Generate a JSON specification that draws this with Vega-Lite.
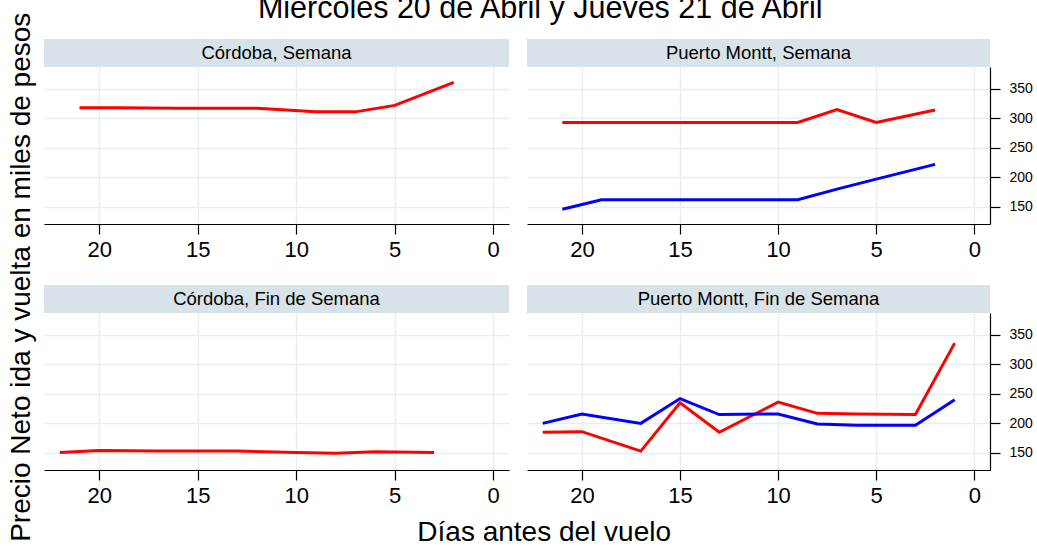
{
  "$schema": "https://vega.github.io/schema/vega-lite/v6.json",
  "background": "white",
  "padding": {"left": 7, "top": -7, "right": 0, "bottom": 0},
  "config": {
    "font": "Liberation Sans",
    "view": {"stroke": null},
    "axis": {
      "labelFont": "Liberation Sans",
      "labelColor": "#000",
      "tickColor": "#000",
      "domainColor": "#000",
      "gridColor": "#e6eef1",
      "gridWidth": 1.5,
      "tickSize": 10,
      "tickWidth": 1.2,
      "domainWidth": 1.2
    },
    "axisX": {"labelFontSize": 22, "labelPadding": 5},
    "axisY": {"labelFontSize": 14, "labelPadding": 9}
  },
  "datasets": {
    "precios": [
      {"panel": "Córdoba, Semana", "serie": "Serie 1", "dias": 21, "precio": 318},
      {"panel": "Córdoba, Semana", "serie": "Serie 1", "dias": 19, "precio": 318},
      {"panel": "Córdoba, Semana", "serie": "Serie 1", "dias": 16, "precio": 317},
      {"panel": "Córdoba, Semana", "serie": "Serie 1", "dias": 14, "precio": 317},
      {"panel": "Córdoba, Semana", "serie": "Serie 1", "dias": 12, "precio": 317},
      {"panel": "Córdoba, Semana", "serie": "Serie 1", "dias": 9, "precio": 311},
      {"panel": "Córdoba, Semana", "serie": "Serie 1", "dias": 7, "precio": 311},
      {"panel": "Córdoba, Semana", "serie": "Serie 1", "dias": 5, "precio": 322},
      {"panel": "Córdoba, Semana", "serie": "Serie 1", "dias": 2, "precio": 361},

      {"panel": "Puerto Montt, Semana", "serie": "Serie 1", "dias": 21, "precio": 293},
      {"panel": "Puerto Montt, Semana", "serie": "Serie 1", "dias": 19, "precio": 293},
      {"panel": "Puerto Montt, Semana", "serie": "Serie 1", "dias": 16, "precio": 293},
      {"panel": "Puerto Montt, Semana", "serie": "Serie 1", "dias": 14, "precio": 293},
      {"panel": "Puerto Montt, Semana", "serie": "Serie 1", "dias": 12, "precio": 293},
      {"panel": "Puerto Montt, Semana", "serie": "Serie 1", "dias": 9, "precio": 293},
      {"panel": "Puerto Montt, Semana", "serie": "Serie 1", "dias": 7, "precio": 315},
      {"panel": "Puerto Montt, Semana", "serie": "Serie 1", "dias": 5, "precio": 293},
      {"panel": "Puerto Montt, Semana", "serie": "Serie 1", "dias": 2, "precio": 314},
      {"panel": "Puerto Montt, Semana", "serie": "Serie 2", "dias": 21, "precio": 146},
      {"panel": "Puerto Montt, Semana", "serie": "Serie 2", "dias": 19, "precio": 162},
      {"panel": "Puerto Montt, Semana", "serie": "Serie 2", "dias": 16, "precio": 162},
      {"panel": "Puerto Montt, Semana", "serie": "Serie 2", "dias": 14, "precio": 162},
      {"panel": "Puerto Montt, Semana", "serie": "Serie 2", "dias": 12, "precio": 162},
      {"panel": "Puerto Montt, Semana", "serie": "Serie 2", "dias": 9, "precio": 162},
      {"panel": "Puerto Montt, Semana", "serie": "Serie 2", "dias": 7, "precio": 180},
      {"panel": "Puerto Montt, Semana", "serie": "Serie 2", "dias": 5, "precio": 197},
      {"panel": "Puerto Montt, Semana", "serie": "Serie 2", "dias": 2, "precio": 222},

      {"panel": "Córdoba, Fin de Semana", "serie": "Serie 1", "dias": 22, "precio": 150.5},
      {"panel": "Córdoba, Fin de Semana", "serie": "Serie 1", "dias": 20, "precio": 154},
      {"panel": "Córdoba, Fin de Semana", "serie": "Serie 1", "dias": 17, "precio": 153},
      {"panel": "Córdoba, Fin de Semana", "serie": "Serie 1", "dias": 13, "precio": 153},
      {"panel": "Córdoba, Fin de Semana", "serie": "Serie 1", "dias": 10, "precio": 150.5},
      {"panel": "Córdoba, Fin de Semana", "serie": "Serie 1", "dias": 8, "precio": 149.5},
      {"panel": "Córdoba, Fin de Semana", "serie": "Serie 1", "dias": 6, "precio": 152},
      {"panel": "Córdoba, Fin de Semana", "serie": "Serie 1", "dias": 3, "precio": 150.5},

      {"panel": "Puerto Montt, Fin de Semana", "serie": "Serie 1", "dias": 22, "precio": 185},
      {"panel": "Puerto Montt, Fin de Semana", "serie": "Serie 1", "dias": 20, "precio": 186},
      {"panel": "Puerto Montt, Fin de Semana", "serie": "Serie 1", "dias": 17, "precio": 153},
      {"panel": "Puerto Montt, Fin de Semana", "serie": "Serie 1", "dias": 15, "precio": 235},
      {"panel": "Puerto Montt, Fin de Semana", "serie": "Serie 1", "dias": 13, "precio": 185},
      {"panel": "Puerto Montt, Fin de Semana", "serie": "Serie 1", "dias": 10, "precio": 236},
      {"panel": "Puerto Montt, Fin de Semana", "serie": "Serie 1", "dias": 8, "precio": 217},
      {"panel": "Puerto Montt, Fin de Semana", "serie": "Serie 1", "dias": 6, "precio": 216},
      {"panel": "Puerto Montt, Fin de Semana", "serie": "Serie 1", "dias": 3, "precio": 215},
      {"panel": "Puerto Montt, Fin de Semana", "serie": "Serie 1", "dias": 1, "precio": 336},
      {"panel": "Puerto Montt, Fin de Semana", "serie": "Serie 2", "dias": 22, "precio": 200},
      {"panel": "Puerto Montt, Fin de Semana", "serie": "Serie 2", "dias": 20, "precio": 216},
      {"panel": "Puerto Montt, Fin de Semana", "serie": "Serie 2", "dias": 17, "precio": 200},
      {"panel": "Puerto Montt, Fin de Semana", "serie": "Serie 2", "dias": 15, "precio": 242},
      {"panel": "Puerto Montt, Fin de Semana", "serie": "Serie 2", "dias": 13, "precio": 215},
      {"panel": "Puerto Montt, Fin de Semana", "serie": "Serie 2", "dias": 10, "precio": 216},
      {"panel": "Puerto Montt, Fin de Semana", "serie": "Serie 2", "dias": 8, "precio": 199},
      {"panel": "Puerto Montt, Fin de Semana", "serie": "Serie 2", "dias": 6, "precio": 197},
      {"panel": "Puerto Montt, Fin de Semana", "serie": "Serie 2", "dias": 3, "precio": 197},
      {"panel": "Puerto Montt, Fin de Semana", "serie": "Serie 2", "dias": 1, "precio": 240}
    ]
  },
  "title": {"text": "Precio Neto ida y vuelta en miles de pesos", "orient": "left", "fontSize": 28, "fontWeight": "normal", "color": "#000", "offset": 8, "anchor": "middle", "dx": -7},
  "vconcat": [
    {
      "title": {"text": "Miércoles 20 de Abril y Jueves 21 de Abril", "fontSize": 30.5, "fontWeight": "normal", "color": "#000", "offset": 15, "anchor": "middle", "dx": 2},
      "vconcat": [
        {
          "title": {"text": "Días antes del vuelo", "orient": "bottom", "fontSize": 28, "fontWeight": "normal", "color": "#000", "offset": 13, "anchor": "middle", "dx": 6},
          "columns": 2,
          "spacing": {"row": 25, "column": 18},
          "concat": [
            {
              "spacing": 0,
              "vconcat": [
                {"width": 465, "height": 28, "data": {"values": [{"panel": "Córdoba, Semana"}]}, "view": {"fill": "#d8e3e9", "stroke": null}, "mark": {"type": "text", "fontSize": 18.5, "color": "#000"}, "encoding": {"text": {"field": "panel"}}},
                {"width": 465, "height": 157, "data": {"name": "precios"}, "transform": [{"filter": {"field": "panel", "equal": "Córdoba, Semana"}}],
                 "mark": {"type": "line", "strokeWidth": 3},
                 "encoding": {
                   "x": {"field": "dias", "type": "quantitative", "scale": {"domain": [22.8, -0.8], "nice": false, "zero": false}, "axis": {"title": null, "values": [0, 5, 10, 15, 20]}},
                   "y": {"field": "precio", "type": "quantitative", "scale": {"domain": [121, 387], "nice": false, "zero": false}, "axis": {"title": null, "values": [150, 200, 250, 300, 350], "labels": false, "ticks": false, "domain": false}},
                   "color": {"field": "serie", "type": "nominal", "scale": {"domain": ["Serie 1", "Serie 2"], "range": ["#ff0000", "#0000ff"]}, "legend": null}
                 }}
              ]
            },
            {
              "spacing": 0,
              "vconcat": [
                {"width": 463, "height": 28, "data": {"values": [{"panel": "Puerto Montt, Semana"}]}, "view": {"fill": "#d8e3e9", "stroke": null}, "mark": {"type": "text", "fontSize": 18.5, "color": "#000"}, "encoding": {"text": {"field": "panel"}}},
                {"width": 463, "height": 157, "data": {"name": "precios"}, "transform": [{"filter": {"field": "panel", "equal": "Puerto Montt, Semana"}}],
                 "mark": {"type": "line", "strokeWidth": 3},
                 "encoding": {
                   "x": {"field": "dias", "type": "quantitative", "scale": {"domain": [22.8, -0.8], "nice": false, "zero": false}, "axis": {"title": null, "values": [0, 5, 10, 15, 20]}},
                   "y": {"field": "precio", "type": "quantitative", "scale": {"domain": [121, 387], "nice": false, "zero": false}, "axis": {"title": null, "orient": "right", "values": [150, 200, 250, 300, 350]}},
                   "color": {"field": "serie", "type": "nominal", "scale": {"domain": ["Serie 1", "Serie 2"], "range": ["#ff0000", "#0000ff"]}, "legend": null}
                 }}
              ]
            },
            {
              "spacing": 0,
              "vconcat": [
                {"width": 465, "height": 28, "data": {"values": [{"panel": "Córdoba, Fin de Semana"}]}, "view": {"fill": "#d8e3e9", "stroke": null}, "mark": {"type": "text", "fontSize": 18.5, "color": "#000"}, "encoding": {"text": {"field": "panel"}}},
                {"width": 465, "height": 157, "data": {"name": "precios"}, "transform": [{"filter": {"field": "panel", "equal": "Córdoba, Fin de Semana"}}],
                 "mark": {"type": "line", "strokeWidth": 3},
                 "encoding": {
                   "x": {"field": "dias", "type": "quantitative", "scale": {"domain": [22.8, -0.8], "nice": false, "zero": false}, "axis": {"title": null, "values": [0, 5, 10, 15, 20]}},
                   "y": {"field": "precio", "type": "quantitative", "scale": {"domain": [121, 387], "nice": false, "zero": false}, "axis": {"title": null, "values": [150, 200, 250, 300, 350], "labels": false, "ticks": false, "domain": false}},
                   "color": {"field": "serie", "type": "nominal", "scale": {"domain": ["Serie 1", "Serie 2"], "range": ["#ff0000", "#0000ff"]}, "legend": null}
                 }}
              ]
            },
            {
              "spacing": 0,
              "vconcat": [
                {"width": 463, "height": 28, "data": {"values": [{"panel": "Puerto Montt, Fin de Semana"}]}, "view": {"fill": "#d8e3e9", "stroke": null}, "mark": {"type": "text", "fontSize": 18.5, "color": "#000"}, "encoding": {"text": {"field": "panel"}}},
                {"width": 463, "height": 157, "data": {"name": "precios"}, "transform": [{"filter": {"field": "panel", "equal": "Puerto Montt, Fin de Semana"}}],
                 "mark": {"type": "line", "strokeWidth": 3},
                 "encoding": {
                   "x": {"field": "dias", "type": "quantitative", "scale": {"domain": [22.8, -0.8], "nice": false, "zero": false}, "axis": {"title": null, "values": [0, 5, 10, 15, 20]}},
                   "y": {"field": "precio", "type": "quantitative", "scale": {"domain": [121, 387], "nice": false, "zero": false}, "axis": {"title": null, "orient": "right", "values": [150, 200, 250, 300, 350]}},
                   "color": {"field": "serie", "type": "nominal", "scale": {"domain": ["Serie 1", "Serie 2"], "range": ["#ff0000", "#0000ff"]}, "legend": null}
                 }}
              ]
            }
          ]
        }
      ]
    }
  ]
}
